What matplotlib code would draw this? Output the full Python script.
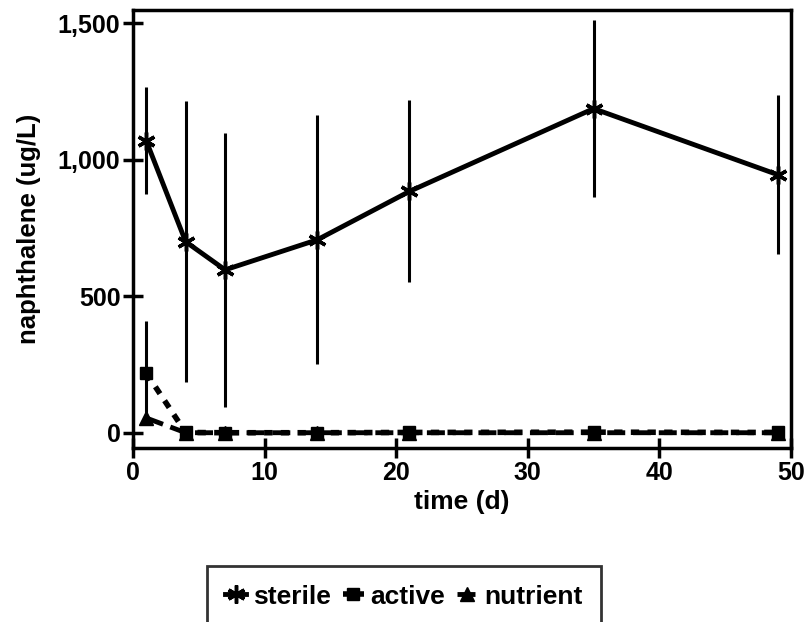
import matplotlib.pyplot as plt
from matplotlib.ticker import FuncFormatter

# dados
dias = [1, 4, 7, 14, 21, 35, 49]
esteril = [1070, 700, 597, 707, 884, 1187, 945]
esteril_err = [197, 515, 502, 455, 333, 323, 290]
ativo = [220, 2, 1, 1, 2, 3, 2]
ativo_err = [190, 0, 0, 0, 0, 0, 0]
nutriente = [55, 1, 1, 1, 1, 1, 1]
rotulos = ['sterile', 'active', 'nutrient']

plt.rcParams['font.family'] = ['Liberation Sans', 'DejaVu Sans']
plt.rcParams['font.weight'] = 'bold'

fig = plt.figure(figsize=(8.08, 6.22), dpi=100)
ax = fig.add_axes([0.1646, 0.2797, 0.8144, 0.7043])

e1 = ax.errorbar(dias, esteril, yerr=esteril_err, color='black', lw=3.5,
                 marker=(6, 2, 0), markersize=13, markeredgewidth=2.5,
                 elinewidth=2.2, capsize=0)
e2 = ax.errorbar(dias, ativo, yerr=ativo_err, color='black', lw=4, ls=(0, (1.5, 1.5)),
                 marker='s', markersize=8, elinewidth=2.2, capsize=0)
l3, = ax.plot(dias, nutriente, color='black', lw=3.5, ls='--',
              marker='^', markersize=10)

ax.set_xlim(0, 50)
ax.set_ylim(-55, 1548)
ax.set_xticks([0, 10, 20, 30, 40, 50])
ax.set_yticks([0, 500, 1000, 1500])
ax.yaxis.set_major_formatter(FuncFormatter(lambda v, p: f'{int(v):,}'))
ax.tick_params(direction='inout', length=14, width=2.5, labelsize=18, pad=2)
for s in ax.spines.values():
    s.set_linewidth(2.5)

ax.set_xlabel('time (d)', fontsize=19, fontweight='bold', labelpad=4)
ax.set_ylabel('naphthalene (ug/L)', fontsize=18.5, fontweight='bold', labelpad=12)

leg = fig.legend([e1[0], e2[0], l3], rotulos, loc='upper center',
                 bbox_to_anchor=(404 / 808, 1 - 553 / 622),
                 ncol=3, fontsize=19, frameon=True, fancybox=False,
                 edgecolor='black', handlelength=0.8, handletextpad=0.25,
                 columnspacing=0.45, borderpad=0.7)
leg.get_frame().set_linewidth(2)

fig.savefig('out.png', dpi=100)
